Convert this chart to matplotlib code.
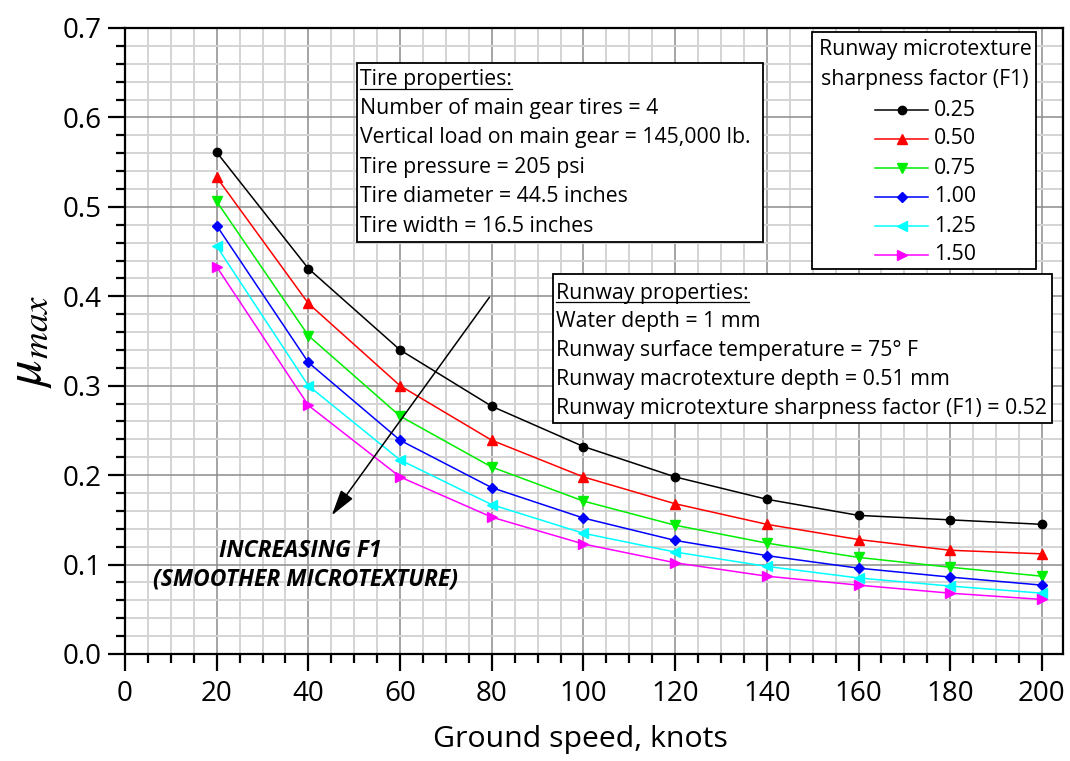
import matplotlib
matplotlib.use("Agg")
import matplotlib.pyplot as plt
from matplotlib.patches import Rectangle
from matplotlib.lines import Line2D
from matplotlib.ticker import MultipleLocator, FormatStrFormatter

plt.rcParams['font.family'] = ['Open Sans', 'DejaVu Sans']
plt.rcParams['mathtext.fontset'] = 'stix'

speed = [20, 40, 60, 80, 100, 120, 140, 160, 180, 200]
f1_labels = ['0.25', '0.50', '0.75', '1.00', '1.25', '1.50']
mu_025 = [0.561, 0.431, 0.340, 0.277, 0.232, 0.198, 0.173, 0.155, 0.150, 0.145]
mu_050 = [0.533, 0.392, 0.300, 0.239, 0.198, 0.168, 0.145, 0.128, 0.116, 0.112]
mu_075 = [0.506, 0.356, 0.266, 0.209, 0.171, 0.144, 0.124, 0.108, 0.097, 0.087]
mu_100 = [0.479, 0.326, 0.239, 0.186, 0.152, 0.127, 0.110, 0.096, 0.086, 0.077]
mu_125 = [0.456, 0.300, 0.217, 0.167, 0.135, 0.114, 0.098, 0.085, 0.076, 0.068]
mu_150 = [0.433, 0.278, 0.198, 0.153, 0.123, 0.102, 0.087, 0.077, 0.068, 0.061]
series = [mu_025, mu_050, mu_075, mu_100, mu_125, mu_150]
colors = ['#000000', '#ff0000', '#00ee00', '#0000ff', '#00ffff', '#ff00ff']
markers = ['o', '^', 'v', 'D', '<', '>']
msizes = [6, 7, 7, 5.5, 7, 7]

tire_lines = ["Number of main gear tires = 4",
              "Vertical load on main gear = 145,000 lb.",
              "Tire pressure = 205 psi",
              "Tire diameter = 44.5 inches",
              "Tire width = 16.5 inches"]
runway_lines = ["Water depth = 1 mm",
                "Runway surface temperature = 75\u00b0 F",
                "Runway macrotexture depth = 0.51 mm",
                "Runway microtexture sharpness factor (F1) = 0.52"]

W, H = 1070, 761
fig = plt.figure(figsize=(W / 100, H / 100), dpi=100)
ax = fig.add_axes([125 / W, 1 - 654 / H, (1063 - 125) / W, (654 - 28) / H])

def px(x, y):
    return (x / W, 1 - y / H)

FS = 15.3

ax.set_xlim(0, 204.6)
ax.set_ylim(0, 0.7)
ax.xaxis.set_major_locator(MultipleLocator(20))
ax.xaxis.set_minor_locator(MultipleLocator(5))
ax.yaxis.set_major_locator(MultipleLocator(0.1))
ax.yaxis.set_minor_locator(MultipleLocator(0.02))
ax.yaxis.set_major_formatter(FormatStrFormatter('%.1f'))
ax.grid(which='minor', color='#d4d4d4', lw=1.4, zorder=0)
ax.grid(which='major', color='#8c8c8c', lw=1.1, zorder=0.5)
ax.set_axisbelow(True)

for s, c, m, ms in zip(series, colors, markers, msizes):
    ax.plot(speed, s, color=c, marker=m, markersize=ms, lw=1.1, zorder=3)

for sp in ax.spines.values():
    sp.set_linewidth(1.6)
ax.tick_params(which='major', direction='out', length=12, width=1.6, labelsize=20, pad=7)
ax.tick_params(which='minor', direction='out', length=6.5, width=1.6)
ax.tick_params(axis='y', which='major', pad=5)

ax.set_xlabel("Ground speed, knots", fontsize=21.8, labelpad=4)
ax.xaxis.set_label_coords((580 - 125) / (1063 - 125), -0.113)
ax.set_ylabel(r"$\mu_{max}$", fontsize=38, labelpad=6)

# arrow
ax.annotate("", xy=(45.1, 0.155), xytext=(79.5, 0.399),
            arrowprops=dict(arrowstyle='-|>,head_length=1.6,head_width=0.45',
                            color='black', lw=1.1, shrinkA=0, shrinkB=0), zorder=4)
ax.text(38.2, 0.115, "INCREASING F1", fontsize=16.5, fontweight='bold', style='italic',
        ha='center', va='center', zorder=5)
ax.text(39.3, 0.083, "(SMOOTHER MICROTEXTURE)", fontsize=16.5, fontweight='bold', style='italic',
        ha='center', va='center', zorder=5)

def info_box(x0, y0, x1, y1, header, lines, tx, ys):
    fig.patches.append(Rectangle(px(x0, y1), (x1 - x0) / W, (y1 - y0) / H,
                                 transform=fig.transFigure, facecolor='white',
                                 edgecolor='black', lw=1.3, zorder=6))
    t = fig.text(*px(tx, ys[0]), header, fontsize=FS, ha='left', va='center', zorder=7)
    for ln, yy in zip(lines, ys[1:]):
        fig.text(*px(tx, yy), ln, fontsize=FS, ha='left', va='center', zorder=7)
    return t

t1 = info_box(356.7, 63.3, 763, 241.7, "Tire properties:", tire_lines, 360,
              [80, 108.5, 138, 167.5, 197, 226])
t2 = info_box(552.7, 274, 1051.7, 422.7, "Runway properties:", runway_lines, 556,
              [293, 321.5, 350.5, 379.5, 408.5])

fig.patches.append(Rectangle(px(811.7, 269), (1036 - 811.7) / W, (269 - 32) / H,
                             transform=fig.transFigure, facecolor='white',
                             edgecolor='black', lw=1.3, zorder=6))
fig.text(*px(925, 50), "Runway microtexture", fontsize=FS, ha='center', va='center', zorder=7)
fig.text(*px(925, 79), "sharpness factor (F1)", fontsize=FS, ha='center', va='center', zorder=7)
leg_y = [110, 139, 168, 197, 226, 255]
for lab, c, m, ms, yy in zip(f1_labels, colors, markers, msizes, leg_y):
    x0, y0 = px(875, yy)
    x1, _ = px(928, yy)
    fig.lines.append(Line2D([x0, x1], [y0, y0], transform=fig.transFigure,
                            color=c, lw=1.1, zorder=7))
    fig.lines.append(Line2D([(x0 + x1) / 2], [y0], transform=fig.transFigure,
                            color=c, marker=m, markersize=ms, lw=0, zorder=8))
    fig.text(*px(934, yy), lab, fontsize=FS, ha='left', va='center', zorder=7)

fig.canvas.draw()
r = fig.canvas.get_renderer()
for t in (t1, t2):
    bb = t.get_window_extent(r)
    yline = bb.y0 + 1.5
    fig.lines.append(Line2D([bb.x0 / W, bb.x1 / W], [yline / H, yline / H],
                            transform=fig.transFigure, color='black', lw=0.9, zorder=8))

fig.savefig("out.png", dpi=100)
